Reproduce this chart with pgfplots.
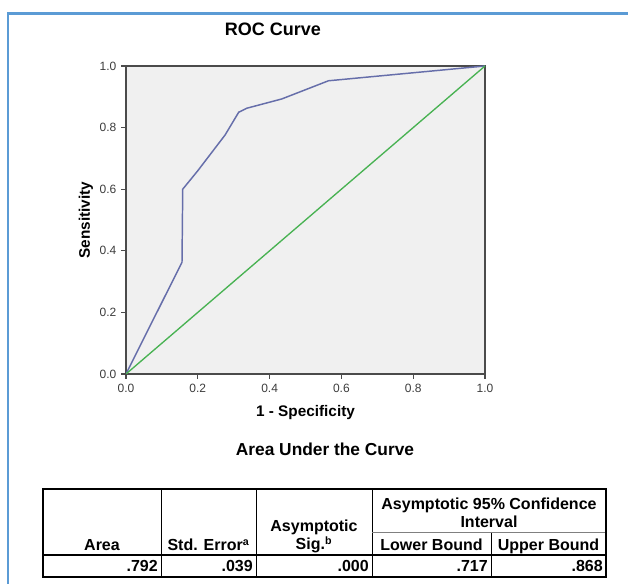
\documentclass[border=0pt]{standalone}
\usepackage{fontspec}
\setmainfont{Liberation Sans}
\usepackage{pgfplots}
\pgfplotsset{compat=1.18}
\definecolor{frameblue}{RGB}{91,155,213}
\definecolor{rocblue}{RGB}{102,110,170}
\definecolor{diaggreen}{RGB}{72,178,82}
\definecolor{bggray}{RGB}{240,240,240}
\definecolor{axgray}{RGB}{75,75,75}
\definecolor{ticktext}{RGB}{60,60,60}
\begin{document}
\begin{tikzpicture}
\path[use as bounding box] (0,0) rectangle (471pt,438pt);
\begin{axis}[
  at={(94.5pt,157.5pt)}, anchor=south west,
  scale only axis, width=269.25pt, height=231pt,
  xmin=0, xmax=1, ymin=0, ymax=1,
  xtick={0,0.2,0.4,0.6,0.8,1}, ytick={0,0.2,0.4,0.6,0.8,1},
  xtick pos=bottom, ytick pos=left, tick align=outside,
  major tick length=3.75pt,
  tick style={axgray, line width=0.8pt},
  axis line style={axgray, line width=1.2pt},
  axis background/.style={fill=bggray},
  /pgf/number format/.cd, fixed, fixed zerofill, precision=1, assume math mode=true, /pgfplots/.cd,
  tick label style={font=\fontsize{9}{10}\selectfont, text=ticktext},
  xlabel={1 - Specificity},
  xlabel style={at={(axis description cs:0.5,-0.1266)}, anchor=center, yshift=0pt, font=\bfseries\fontsize{11.5}{13}\selectfont},
  ylabel={Sensitivity},
  ylabel style={at={(axis description cs:-0.1114,0.5)}, anchor=center, font=\bfseries\fontsize{11.5}{13}\selectfont},
]
\addplot[rocblue, line width=1.1pt] coordinates {
  (0,0) (0.156,0.363) (0.158,0.600) (0.200,0.660) (0.276,0.776) (0.314,0.850)
  (0.337,0.863) (0.434,0.893) (0.467,0.908) (0.564,0.952) (1,1)
};
\addplot[diaggreen, line width=1.0pt] coordinates {(0,0) (1,1)};
\end{axis}
\begin{scope}[x=0.75pt, y=-0.75pt, yshift=438pt]
  \draw[frameblue, line width=2.2pt] (8,590) -- (8,13.5) -- (640,13.5);
  \node[anchor=center, font=\bfseries\fontsize{13.5}{15}\selectfont] at (273,29) {ROC Curve};
  \node[anchor=center, font=\bfseries\fontsize{13}{15}\selectfont] at (325,449) {Area Under the Curve};
  % table lines
  \draw[black, line width=0.75pt] (161,489) -- (161,577) (256,489) -- (256,577) (372,489) -- (372,577) (491,532) -- (491,577);
  \draw[gray, line width=0.6pt] (372,532) -- (606,532);
  \draw[black, line width=1.5pt] (43,555) -- (606,555);
  \draw[black, line width=1.6pt] (43,489) rectangle (606,577);
  \begin{scope}[every node/.style={font=\bfseries\fontsize{12}{14}\selectfont, inner sep=0pt}]
    \node[anchor=base] at (102,551) {Area};
    \node[anchor=base] at (208.5,551) {Std. Error\textsuperscript{a}};
    \node[anchor=base] at (314,532) {Asymptotic};
    \node[anchor=base] at (314,550) {Sig.\textsuperscript{b}};
    \node[anchor=base] at (489,510) {Asymptotic 95\% Confidence};
    \node[anchor=base] at (489,528) {Interval};
    \node[anchor=base] at (431.5,551) {Lower Bound};
    \node[anchor=base] at (548.5,551) {Upper Bound};
    \node[anchor=base east] at (158,572) {.792};
    \node[anchor=base east] at (253,572) {.039};
    \node[anchor=base east] at (369,572) {.000};
    \node[anchor=base east] at (488,572) {.717};
    \node[anchor=base east] at (603,572) {.868};
  \end{scope}
\end{scope}
\end{tikzpicture}
\end{document}
